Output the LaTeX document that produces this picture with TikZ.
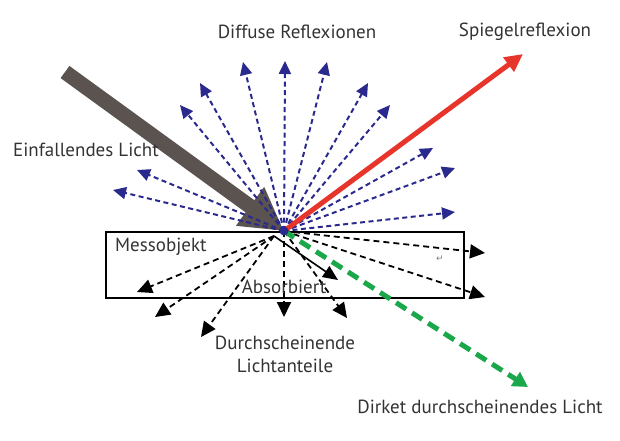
\documentclass[tikz,border=0pt]{standalone}
\usepackage{fontspec}
\setmainfont{PT Sans}
\newfontfamily\symfont{DejaVu Sans}
\usetikzlibrary{arrows.meta}
\definecolor{navy}{HTML}{2A2A8E}
\definecolor{lightred}{HTML}{E8352C}
\definecolor{stone}{HTML}{5B5350}
\definecolor{leaf}{HTML}{1BA84B}
\definecolor{ink}{HTML}{333333}

\begin{document}
\begin{tikzpicture}[x=1pt,y=-1pt,
    diffuse/.style={navy,line width=2pt,dash pattern=on 5pt off 3.5pt,-{Triangle[length=13pt,width=12pt]}},
    through/.style={black,line width=1.8pt,dash pattern=on 6pt off 4pt,-{Triangle[length=15pt,width=14pt]}},
    label/.style={text=ink,font=\fontsize{19}{23}\selectfont,inner sep=0pt}]
                \useasboundingbox (0,0) rectangle (620,440);
                \coordinate (c) at (284,231);
                \coordinate (o) at (274,236);
                \draw[line width=1.1pt] (106,232) rectangle (464,298);
                \draw[stone,line width=15pt,-{Triangle[length=42pt,width=45pt]}] (65,72) coordinate (src) -- (c);
                \foreach \x/\y [count=\i] in {113/190,137/170,180/105,200/83,243/62,285/61,327/62,368/83,390/105,433/148,455/168,455/212}
                    \draw[diffuse] (c) -- (\x,\y) coordinate (d\i);
                \draw[lightred,line width=5pt,-{Triangle[length=18pt,width=17pt]}] (c) -- (523,54) coordinate (spec);
                \foreach \x/\y [count=\i] in {485/253,485/297,284/317,347/318}
                    \draw[through] (c) -- (\x,\y) coordinate (t\i);
                \foreach \x/\y [count=\i] in {137/292,155/317,201/337}
                    \draw[through] (o) -- (\x,\y) coordinate (l\i);
                \draw[black,line width=1.6pt,-{Triangle[length=15pt,width=13pt]}] (o) -- (338,280) coordinate (abs);
                \draw[leaf,line width=5pt,dash pattern=on 12pt off 7pt,-{Triangle[length=15pt,width=16pt]}] (c) -- (528,387) coordinate (direct);
                \fill[navy] (c) circle (4.5pt);
                \node[label] (diff) at (297,32) {Diffuse Reflexionen};
                \node[label] (spiegel) at (525,32) {Spiegelreflexion};
                \node[label] (einf) at (86,150) {Einfallendes Licht};
                \node[label,anchor=west] (mess) at (115,247) {Messobjekt};
                \node[label] (absorb) at (284,287) {Absorbiert};
                \node[label,align=center] (durch) at (285,354) {Durchscheinende\\Lichtanteile};
                \node[label] (dirk) at (480,407) {Dirket durchscheinendes Licht};
                \node[text=gray,font=\symfont\fontsize{9}{9}\selectfont] (ret) at (440,259) {↵};
            \end{tikzpicture}
\end{document}
